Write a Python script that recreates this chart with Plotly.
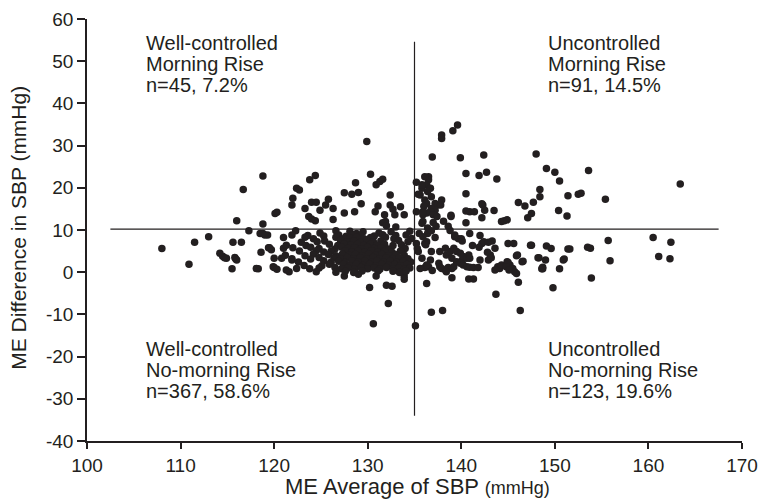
import plotly.graph_objects as go

# ---------------- data ----------------
# Well-controlled, morning rise (upper-left)
ul_x = [116.0, 116.7, 118.8, 118.8, 120.1, 120.3, 121.9, 122.0, 122.4, 122.7, 123.3, 123.8,
        124.4, 124.0, 124.5, 124.9, 125.5, 125.8, 126.3, 123.7, 124.0, 124.4, 126.3, 127.5,
        128.3, 129.0, 128.7, 127.5, 128.6, 129.3, 129.9, 130.3, 130.9, 131.3, 131.6, 132.4,
        131.1, 130.8, 131.8, 131.9, 131.6, 132.4, 132.7, 132.9, 133.5, 133.9, 132.0, 133.0]
ul_y = [12.2, 19.6, 22.8, 11.4, 13.9, 14.2, 15.9, 17.5, 19.9, 19.5, 15.1, 21.9,
        22.9, 16.6, 16.6, 14.7, 15.9, 17.3, 15.1, 13.2, 12.6, 12.2, 12.5, 18.8,
        18.5, 18.9, 21.2, 14.0, 14.3, 16.2, 31.0, 23.2, 20.7, 21.5, 22.0, 18.3,
        15.7, 14.3, 13.6, 12.0, 11.7, 15.9, 14.9, 13.6, 15.5, 13.6, 11.0, 10.7]

# Uncontrolled, morning rise (upper-right)
ur_x = [137.9, 137.9, 139.1, 139.6, 136.9, 139.9, 142.4, 148.0, 149.1, 150.0, 150.5, 140.5,
        141.9, 142.7, 143.8, 140.5, 136.5, 136.5, 136.3, 135.8, 136.7, 136.4, 136.8, 135.6,
        136.1, 136.3, 137.2, 137.5, 137.9, 137.8, 137.2, 136.8, 136.7, 136.3, 135.9, 137.0,
        137.4, 135.8, 137.0, 138.1, 138.9, 138.9, 140.5, 140.9, 141.4, 142.2, 142.3, 142.5,
        143.5, 142.2, 144.3, 144.6, 144.9, 146.1, 146.8, 147.1, 147.5, 147.7, 148.4, 148.4,
        150.4, 151.3, 151.4, 152.5, 152.8, 153.6, 155.4, 163.4, 140.5, 135.2, 135.8, 135.2,
        135.9, 135.9, 135.4, 136.1, 136.4, 137.3, 138.6, 136.0]
ur_y = [32.5, 31.7, 33.5, 34.9, 27.3, 27.1, 27.8, 28.0, 24.6, 23.7, 21.6, 23.4,
        22.9, 23.7, 22.1, 18.6, 22.6, 21.9, 20.7, 19.9, 19.9, 19.1, 17.9, 18.3,
        17.1, 16.3, 16.3, 15.9, 17.1, 15.9, 14.7, 15.1, 14.3, 14.0, 13.6, 13.6,
        13.2, 11.6, 11.8, 12.1, 13.5, 13.2, 14.5, 14.3, 14.3, 16.2, 15.9, 14.7,
        14.6, 12.9, 12.0, 12.2, 12.4, 16.5, 15.7, 12.9, 13.9, 16.6, 17.9, 19.6,
        14.6, 13.3, 18.1, 18.5, 18.7, 24.1, 17.3, 20.9, 11.7, 21.3, 20.7, 14.3,
        14.3, 12.0, 18.5, 22.6, 10.5, 10.9, 10.9, 15.6]

# Uncontrolled, no-morning rise (lower-right)
lr_x = [136.4, 136.8, 138.8, 140.9, 142.0, 136.1, 136.3, 136.2, 139.3, 139.7, 140.0, 140.1,
        142.2, 142.4, 143.3, 143.6, 145.0, 145.6, 147.5, 149.1, 149.6, 151.4, 136.8, 136.7,
        136.5, 136.1, 136.3, 137.7, 138.3, 138.4, 138.8, 139.0, 139.2, 139.5, 139.9, 140.1,
        140.2, 140.6, 140.8, 140.9, 137.6, 137.7, 137.9, 138.3, 138.6, 139.0, 139.2, 139.5,
        139.9, 140.2, 140.6, 140.9, 141.3, 141.8, 138.4, 139.0, 140.8, 141.3, 142.0, 142.9,
        143.1, 143.9, 144.1, 144.3, 144.9, 145.2, 145.5, 145.7, 145.9, 146.1, 146.0, 146.6,
        148.3, 149.0, 148.7, 148.7, 150.5, 150.9, 136.3, 143.7, 136.8, 138.0, 146.3, 149.8,
        151.6, 153.5, 153.8, 155.7, 160.5, 162.4, 151.0, 155.9, 161.1, 162.3, 153.9, 135.1,
        135.2, 135.4, 135.8, 135.6, 135.5, 135.3, 139.3, 142.9, 141.9, 142.8, 143.6, 145.0,
        144.8, 145.1, 147.4, 146.5, 145.9, 148.2, 148.6, 141.2, 137.2, 143.2, 135.9, 136.9]
lr_y = [9.2, 9.8, 9.9, 9.2, 8.7, 6.8, 7.2, 6.5, 8.4, 7.9, 7.9, 7.4,
        6.8, 7.2, 7.4, 5.7, 6.8, 6.8, 6.4, 6.2, 5.6, 5.5, 4.9, 2.9,
        1.3, 1.1, 1.7, 4.9, 5.7, 4.1, 4.9, 3.3, 5.7, 4.9, 4.5, 2.9,
        3.7, 3.3, 4.1, 3.3, 2.1, 1.3, 0.9, 0.5, 1.1, 0.9, 1.3, 2.5,
        2.1, 1.7, 1.3, 1.2, 1.1, 1.1, 0.1, -1.3, -1.6, -1.6, 2.9, 2.9,
        4.1, 1.3, 0.9, 1.7, 2.5, 1.7, 0.9, 0.1, -0.3, -2.4, 4.1, 2.6,
        3.4, 2.9, 1.2, 0.8, 0.8, 2.9, -2.7, -5.2, -9.5, -9.1, -9.1, -3.7,
        5.5, 5.9, 5.7, 7.5, 8.2, 7.1, 3.1, 2.7, 3.7, 3.2, -1.4, -12.7,
        6.8, 4.9, 3.3, 0.9, 9.2, 5.6, 8.8, 7.1, 5.9, 4.7, 0.5, 2.3,
        1.3, 0.5, 6.4, 2.5, 3.9, 3.4, 0.8, 6.3, 8.2, 3.4, 8.4, 0.4]

# Well-controlled, no-morning rise (lower-left): sparse outer points
ll_x = [108.0, 110.9, 111.5, 113.0, 114.2, 114.5, 114.7, 114.9, 115.5, 115.6, 116.5, 115.8,
        115.9, 116.0, 117.3, 118.3, 118.6, 118.8, 119.3, 119.5, 119.7, 119.9, 118.5, 119.0,
        118.1, 119.4, 120.0, 120.0, 120.3, 121.0, 120.8, 121.3, 121.6, 121.9, 122.4,
        130.2, 130.6, 132.0, 132.6, 132.2, 130.9, 133.9, 133.9, 127.5, 129.0]
ll_y = [5.6, 1.9, 7.1, 8.4, 4.5, 3.8, 3.4, 3.3, 0.8, 7.1, 7.1, 3.5,
        3.1, 2.9, 9.8, 0.8, 4.7, 9.2, 8.8, 5.8, 5.3, 1.3, 9.2, 8.8,
        0.9, 5.8, 3.3, 1.1, 0.7, 5.7, 3.3, 0.5, 0.1, 2.9, 0.9,
        -3.6, -12.2, -3.1, -3.3, -7.4, -0.9, -0.9, -1.7, -0.9, -0.5]

# Well-controlled, no-morning rise (lower-left): dense core, read row by row
ll_core = [
    (122.3, 9.8), (124.9, 9.3), (126.6, 9.8), (128.1, 9.7), (128.8, 9.2), (129.5, 9.6), (131.2, 9.3), (132.5, 9.6), (134.5, 9.7),
    (121.9, 8.8), (123.6, 8.7), (125.3, 8.6), (126.9, 8.8), (127.7, 8.5), (128.5, 8.9), (129.2, 8.7), (130.7, 8.6),
    (131.6, 8.9), (133.0, 8.7), (134.1, 8.8),
    (121.0, 8.2), (123.3, 8.3), (124.2, 7.9), (126.6, 8.3), (127.4, 7.9), (128.1, 8.1), (128.8, 8.3), (129.6, 7.9),
    (130.3, 8.2), (131.9, 8.3), (132.8, 7.9), (134.7, 8.0),
    (122.9, 7.1), (124.6, 7.2), (125.4, 7.4), (127.1, 7.5), (127.8, 7.2), (128.5, 7.4), (129.2, 7.1), (129.9, 7.5),
    (130.6, 7.2), (131.4, 7.4), (133.3, 7.5), (134.3, 7.2),
    (121.3, 6.4), (123.4, 6.3), (125.9, 6.6), (126.8, 6.3), (127.5, 6.7), (128.2, 6.4), (128.9, 6.6), (129.6, 6.3),
    (130.3, 6.7), (131.0, 6.4), (131.8, 6.6), (132.7, 6.3), (133.6, 6.5),
    (122.0, 5.8), (123.9, 5.9), (124.8, 5.6), (126.5, 5.5), (127.2, 5.9), (127.9, 5.6), (128.6, 5.8), (129.3, 5.5),
    (130.0, 5.9), (130.7, 5.6), (131.4, 5.8), (132.2, 5.5), (134.0, 5.6),
    (122.7, 5.0), (124.5, 5.1), (125.3, 4.8), (126.1, 5.0), (127.6, 5.1), (128.3, 4.8), (129.0, 5.0), (129.7, 4.7),
    (130.4, 5.1), (131.1, 4.8), (131.8, 5.0), (132.6, 4.7), (133.5, 5.0),
    (121.2, 4.0), (123.3, 3.9), (124.2, 4.3), (125.8, 4.2), (126.6, 3.9), (127.3, 4.3), (128.0, 4.0), (128.7, 4.2),
    (129.4, 3.9), (130.1, 4.3), (130.8, 4.0), (131.5, 4.2), (132.2, 3.9), (133.0, 4.2), (133.9, 4.0),
    (121.9, 3.2), (123.9, 3.1), (124.8, 3.5), (126.4, 3.4), (127.1, 3.1), (127.8, 3.5), (128.5, 3.2), (129.2, 3.4),
    (129.9, 3.1), (130.6, 3.5), (131.3, 3.2), (132.0, 3.4), (132.7, 3.1), (133.4, 3.4), (134.3, 3.2),
    (122.6, 2.4), (125.3, 2.7), (126.1, 2.4), (126.9, 2.6), (127.6, 2.3), (128.3, 2.7), (129.0, 2.4), (129.7, 2.6),
    (130.4, 2.3), (131.0, 2.7), (131.7, 2.4), (132.4, 2.6), (133.1, 2.3), (133.8, 2.6), (134.6, 2.4),
    (123.2, 1.6), (125.1, 1.5), (125.9, 1.9), (127.4, 1.8), (128.1, 1.5), (128.8, 1.9), (129.5, 1.6), (130.2, 1.8),
    (130.9, 1.5), (131.5, 1.9), (132.2, 1.6), (132.9, 1.8), (133.5, 1.5), (134.2, 1.8),
    (123.8, 0.8), (124.8, 1.0), (126.5, 1.1), (127.2, 0.8), (127.9, 1.0), (128.6, 0.7), (129.3, 1.1), (130.0, 0.8),
    (130.7, 1.0), (131.3, 0.7), (132.0, 1.1), (132.7, 0.8), (133.3, 1.0), (133.9, 0.7), (134.5, 1.0),
    (124.5, 0.1), (126.6, 0.0), (127.6, 0.2), (128.5, -0.1), (129.4, 0.3), (131.1, 0.3), (132.7, 0.2), (133.4, -0.1),
    (134.1, 0.3),
]
ll_core_x = [p[0] for p in ll_core]
ll_core_y = [p[1] for p in ll_core]

# quadrant labels
quad_labels = {
    "ul": ["Well-controlled", "Morning Rise", "n=45, 7.2%"],
    "ur": ["Uncontrolled", "Morning Rise", "n=91, 14.5%"],
    "ll": ["Well-controlled", "No-morning Rise", "n=367, 58.6%"],
    "lr": ["Uncontrolled", "No-morning Rise", "n=123, 19.6%"],
}

# reference lines (data units)
SBP_CUT = 135
RISE_CUT = 10.2
VLINE_Y = (-34, 54.6)
HLINE_X = (102.5, 167.5)

X_RANGE = [100, 170]
Y_RANGE = [-40, 60]
x_ticks = [100, 110, 120, 130, 140, 150, 160, 170]
y_ticks = [-40, -30, -20, -10, 0, 10, 20, 30, 40, 50, 60]

# ---------------- figure ----------------
INK = "#231f20"
FONT = "Liberation Sans, Arial, Helvetica, sans-serif"

all_x = ul_x + ur_x + lr_x + ll_x + ll_core_x
all_y = ul_y + ur_y + lr_y + ll_y + ll_core_y

fig = go.Figure()
fig.add_trace(go.Scatter(
    x=all_x, y=all_y, mode="markers",
    marker=dict(size=7.5, color=INK, line=dict(width=0)),
    showlegend=False, hoverinfo="x+y",
))

fig.add_shape(type="line", xref="x", yref="y", x0=SBP_CUT, x1=SBP_CUT,
              y0=VLINE_Y[0], y1=VLINE_Y[1], line=dict(color=INK, width=1.2))
fig.add_shape(type="line", xref="x", yref="y", x0=HLINE_X[0], x1=HLINE_X[1],
              y0=RISE_CUT, y1=RISE_CUT, line=dict(color=INK, width=1.2))

label_pos = {
    "ul": (106.1, [54.2, 49.3, 44.4]),
    "ur": (149.1, [54.2, 49.3, 44.4]),
    "ll": (106.1, [-18.2, -23.2, -28.2]),
    "lr": (149.1, [-18.2, -23.2, -28.2]),
}
for key, lines in quad_labels.items():
    lx, ys = label_pos[key]
    for txt, ly in zip(lines, ys):
        fig.add_annotation(x=lx, y=ly, xref="x", yref="y", text=txt,
                           showarrow=False, xanchor="left", yanchor="middle",
                           font=dict(family=FONT, size=20, color=INK))

# axis titles
fig.add_annotation(xref="paper", yref="paper", x=0.505, y=-0.108,
                   text="ME Average of SBP <span style='font-size:18px'>(mmHg)</span>",
                   showarrow=False, xanchor="center", yanchor="middle",
                   font=dict(family=FONT, size=22, color=INK))
fig.add_annotation(xref="paper", yref="paper", x=-0.104, y=0.505,
                   text="ME Difference in SBP (mmHg)",
                   showarrow=False, xanchor="center", yanchor="middle", textangle=-90,
                   font=dict(family=FONT, size=21, color=INK))

axis_common = dict(showgrid=False, zeroline=False, showline=True, linecolor=INK,
                   linewidth=1.5, ticks="outside", tickcolor=INK, tickwidth=1.5,
                   automargin=False,
                   tickfont=dict(family=FONT, size=19, color=INK))
fig.update_xaxes(range=X_RANGE, tickvals=x_ticks, ticktext=[str(v) for v in x_ticks],
                 ticklen=6, **axis_common)
fig.update_yaxes(range=Y_RANGE, tickvals=y_ticks, ticktext=[str(v) for v in y_ticks],
                 ticklen=8, **axis_common)

fig.update_layout(
    width=761, height=500,
    margin=dict(l=87, r=19, t=19, b=59),
    paper_bgcolor="white", plot_bgcolor="white",
    font=dict(family=FONT, color=INK),
)

# remove the browser's default body margin so the figure fills the window exactly
fig.write_html("out.html", config={"displayModeBar": False},
               post_script="document.body.style.margin='0';document.body.style.overflow='hidden';")
